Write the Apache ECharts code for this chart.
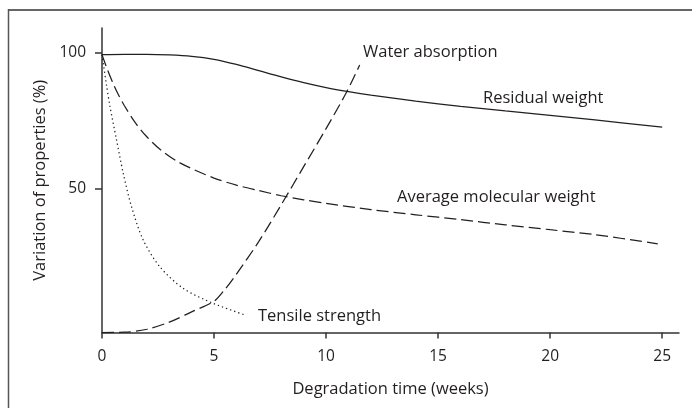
<!DOCTYPE html>
<html>
<head>
<meta charset="utf-8">
<script src="https://cdn.jsdelivr.net/npm/echarts@6/dist/echarts.min.js"></script>
<style>
  html, body { margin: 0; padding: 0; background: #ffffff; }
  #chart { width: 692px; height: 408px; }
</style>
</head>
<body>
<div id="chart"></div>
<script>
// Degradation time in weeks paired with % of the initial property value
const residualWeight = [
  [0, 99.2], [1, 99.3], [2, 99.3], [3, 99.1], [4, 98.6], [5, 97.5], [6, 95.6],
  [7, 93.3], [8, 91.0], [9, 88.9], [10, 87.1], [11, 85.6], [12, 84.3],
  [14, 82.1], [16, 80.2], [18, 78.5], [20, 76.9], [22, 75.2], [25, 72.5]
];
const molecularWeight = [
  [0, 99.2], [0.25, 93.5], [0.5, 88.5], [0.75, 84.2], [1, 80.4], [1.5, 74],
  [2, 69], [2.6, 64.3], [3.5, 59.3], [5, 53.8], [6, 51.2], [7, 49.2], [8, 47.3],
  [9, 45.8], [10, 44.5], [12, 42.2], [14, 40.3], [16, 38.5], [18, 36.6],
  [20, 34.8], [22, 33], [24.8, 29.6]
];
const tensileStrength = [
  [0, 99.2], [0.2, 88], [0.36, 80], [0.65, 67.8], [0.95, 55.5], [1.32, 43.2],
  [1.84, 31], [2.59, 21.1], [3.63, 13.2], [4.97, 7.7], [6.4, 3.4]
];
const waterAbsorption = [
  [0, -3], [1, -2.9], [2, -1.8], [3, 0.8], [4, 4.6], [5, 8.5], [5.5, 13],
  [6, 18.5], [7, 30.5], [8, 44], [9, 58], [10, 72], [10.9, 85.2], [11.5, 95.4]
];
const xTicks = [0, 5, 10, 15, 20, 25];
const yTicks = [50, 100];

const ink = '#231f20';
const textColor = '#231f20';
const fontFamily = '"Open Sans", "Liberation Sans", sans-serif';

const chart = echarts.init(document.getElementById('chart'), null, { renderer: 'canvas' });

function curve(name, data, dash) {
  return {
    name: name,
    type: 'line',
    data: data,
    smooth: 0.3,
    showSymbol: false,
    symbol: 'none',
    silent: true,
    lineStyle: { color: ink, width: 1.25, type: dash },
    z: 3
  };
}

chart.setOption({
  animation: false,
  backgroundColor: '#ffffff',
  grid: { left: 102, right: 13, top: 28, bottom: 75.5, containLabel: false },
  xAxis: {
    type: 'value',
    min: 0,
    max: 25.75,
    name: 'Degradation time (weeks)',
    nameLocation: 'middle',
    nameGap: 48,
    nameTextStyle: { color: textColor, fontSize: 16.5, fontFamily: fontFamily },
    axisLine: { show: true, onZero: false, lineStyle: { color: '#333333', width: 1.5 } },
    axisTick: { show: true, inside: false, length: 6, customValues: xTicks, lineStyle: { color: '#333333', width: 1.5 } },
    axisLabel: { customValues: xTicks, margin: 16, color: textColor, fontSize: 15.5, fontFamily: fontFamily },
    splitLine: { show: false }
  },
  yAxis: {
    type: 'value',
    min: -3,
    max: 109,
    name: 'Variation of properties (%)',
    nameLocation: 'middle',
    nameGap: 53,
    nameTextStyle: { color: textColor, fontSize: 16.5, fontFamily: fontFamily },
    axisLine: { show: true, onZero: false, lineStyle: { color: '#333333', width: 1.5 } },
    axisTick: { show: true, length: 7, customValues: yTicks, lineStyle: { color: '#333333', width: 1.5 } },
    axisLabel: { customValues: yTicks, margin: 16, color: textColor, fontSize: 15.5, fontFamily: fontFamily },
    splitLine: { show: false }
  },
  series: [
    curve('Residual weight', residualWeight, 'solid'),
    curve('Average molecular weight', molecularWeight, [12, 5]),
    curve('Tensile strength', tensileStrength, [1.3, 3]),
    curve('Water absorption', waterAbsorption, [12, 5])
  ],
  graphic: [
    // frame edges
    { type: 'line', shape: { x1: 8, y1: 10, x2: 692, y2: 10 }, style: { stroke: '#666666', lineWidth: 2 }, silent: true },
    { type: 'line', shape: { x1: 8.5, y1: 9, x2: 8.5, y2: 408 }, style: { stroke: '#555555', lineWidth: 1.5 }, silent: true },
    // curve captions
    { type: 'text', left: 363, top: 44, style: { text: 'Water absorption', fill: textColor, font: '16.5px ' + fontFamily } },
    { type: 'text', left: 483, top: 90, style: { text: 'Residual weight', fill: textColor, font: '16.5px ' + fontFamily } },
    { type: 'text', left: 397, top: 189, style: { text: 'Average molecular weight', fill: textColor, font: '16.5px ' + fontFamily } },
    { type: 'text', left: 258, top: 308, style: { text: 'Tensile strength', fill: textColor, font: '16.5px ' + fontFamily } }
  ]
});
</script>
</body>
</html>
